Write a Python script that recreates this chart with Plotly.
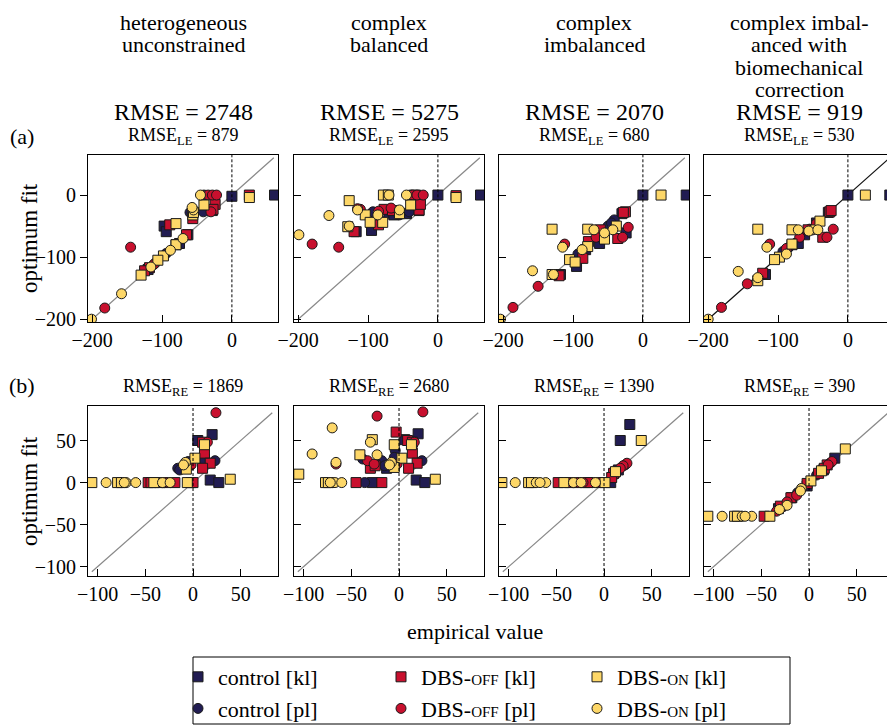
import plotly.graph_objects as go

# The page body adds an 8 px margin, so the figure is drawn 8 px smaller and
# every reference pixel position is shifted by that offset.
OFFSET = 8
W, H = 895 - OFFSET, 725 - OFFSET

# ---------------- column headers / statistics ----------------
HEADERS = [["heterogeneous", "unconstrained"],
           ["complex", "balanced"],
           ["complex", "imbalanced"],
           ["complex imbal-", "anced with", "biomechanical", "correction"]]
RMSE_TOTAL = [2748, 5275, 2070, 919]
RMSE_LE = [879, 2595, 680, 530]
RMSE_RE = [1869, 2680, 1390, 390]

SERIES_NAMES = ["control [kl]", "control [pl]",
                "DBS-<span style='font-size:15px'>OFF</span> [kl]",
                "DBS-<span style='font-size:15px'>OFF</span> [pl]",
                "DBS-<span style='font-size:15px'>ON</span> [kl]",
                "DBS-<span style='font-size:15px'>ON</span> [pl]"]
SERIES_COLORS = ["#211c52", "#211c52", "#c8102e", "#c8102e", "#fdd768", "#fdd768"]
SERIES_SYMBOLS = ["square", "circle", "square", "circle", "square", "circle"]

# tick values
A_TICKS = [-200, -100, 0]
B_TICKS = [-100, -50, 0, 50]
A_XRANGE = [-206, 66]
A_YRANGE = [-205, 65]
B_XRANGE = [-110, 89]
B_YRANGE = [-111, 91]
A_DIAG = [-200, 60]
B_DIAG = [-106, 83]

# ---------------- row (a): LE ----------------
A1_CTRL_KL_X = [61, 0, -97, -94, -75, -63, -28, -120]
A1_CTRL_KL_Y = [0, -2, -50, -59, -78, -64, -25, -120]
A1_CTRL_PL_X = [-41, -58, -40, -94, -110, -60]
A1_CTRL_PL_Y = [-27, -27, 0, -94, -110, -28]
A1_OFF_KL_X = [25, -24, -27, -56, -89, -65, -118, -125, -80]
A1_OFF_KL_Y = [0, -15, -23, -38, -48, -64, -117, -122, -80]
A1_OFF_PL_X = [-34, -28, -22, -145, -182, -112, -30]
A1_OFF_PL_Y = [0, 0, 0, -84, -182, -112, -27]
A1_ON_KL_X = [25, -40, -56, -80, -80, -98, -106, -130, -55]
A1_ON_KL_Y = [-4, -16, -32, -46, -80, -98, -105, -129, -28]
A1_ON_PL_X = [-45, -55, -70, -88, -116, -158, -201, -57]
A1_ON_PL_Y = [0, -24, -70, -89, -116, -159, -200, -20]

A2_CTRL_KL_X = [0, 61, -70, -63, -95, -117, -27, -45]
A2_CTRL_KL_Y = [0, 0, -29, -32, -57, -59, -25, -30]
A2_CTRL_PL_X = [-93, -41, -85, -40, -55, -60]
A2_CTRL_PL_Y = [-27, -27, -37, 0, -32, -25]
A2_OFF_KL_X = [26, -32, -77, -27, -25, -85, -120, -65]
A2_OFF_KL_Y = [-1, 0, -23, -24, -15, -48, -59, -25]
A2_OFF_PL_X = [-36, -30, -21, -180, -142, -111, -85, -67, -115]
A2_OFF_PL_Y = [0, 0, 0, -79, -84, -23, -26, -21, -22]
A2_ON_KL_X = [26, -78, -71, -127, -104, -55, -39, -97, -79, -129]
A2_ON_KL_Y = [-4, 0, 0, -9, -32, -30, -16, -44, -44, -51]
A2_ON_PL_X = [-70, -45, -156, -199, -115, -55, -86, -127]
A2_ON_PL_Y = [0, 0, -33, -64, -24, -24, -32, -50]

A3_CTRL_KL_X = [0, 62, -24, -62, -82, -95, -118, -30]
A3_CTRL_KL_Y = [0, 0, -61, -78, -88, -115, -128, -30]
A3_CTRL_PL_X = [-41, -50, -93, -45]
A3_CTRL_PL_Y = [-40, -50, -95, -45]
A3_OFF_KL_X = [-25, -28, -36, -61, -78, -86, -120]
A3_OFF_KL_Y = [-27, -28, -70, -56, -75, -102, -130]
A3_OFF_PL_X = [-21, -29, -67, -112, -150, -186]
A3_OFF_PL_Y = [-52, -68, -68, -79, -147, -181]
A3_ON_KL_X = [26, -38, -55, -79, -79, -105, -97, -130, -130]
A3_ON_KL_Y = [0, -50, -71, -55, -83, -104, -108, -55, -128]
A3_ON_PL_X = [-43, -55, -70, -87, -115, -158, -128, -204]
A3_ON_PL_Y = [-56, -61, -56, -88, -84, -122, -128, -200]

A4_CTRL_KL_X = [0, 60, -62, -71, -118, -45, -28]
A4_CTRL_KL_Y = [0, 0, -64, -78, -128, -45, -28]
A4_CTRL_PL_X = [-93, -55, -85]
A4_CTRL_PL_Y = [-91, -55, -85]
A4_OFF_KL_X = [-26, -24, -57, -36, -122, -80]
A4_OFF_KL_Y = [-27, -25, -56, -68, -126, -80]
A4_OFF_PL_X = [-45, -21, -30, -69, -88, -112, -144, -181]
A4_OFF_PL_Y = [-46, -55, -68, -68, -86, -79, -143, -181]
A4_ON_KL_X = [25, -40, -80, -80, -98, -105, -129, -129]
A4_ON_KL_Y = [0, -42, -56, -79, -100, -104, -55, -138]
A4_ON_PL_X = [-50, -56, -43, -71, -88, -116, -157, -129, -200]
A4_ON_PL_Y = [-56, -58, -56, -56, -95, -84, -123, -133, -200]

# ---------------- row (b): RE ----------------
B1_CTRL_KL_X = [20, 5, 18, 27, -2, 12]
B1_CTRL_KL_Y = [57, 50, 3, 0, 0, 28]
B1_CTRL_PL_X = [23, 12, -10, -16, -14, -5]
B1_CTRL_PL_Y = [26, 26, 20, 17, 15, 25]
B1_OFF_KL_X = [10, 12, 18, 10, -47, -44, -35, -28, -19, 0]
B1_OFF_KL_Y = [48, 35, 23, 17, 0, 0, 0, 0, 0, 0]
B1_OFF_PL_X = [24, -2, 15, -30]
B1_OFF_PL_Y = [83, 21, 48, 0]
B1_ON_KL_X = [12, 2, -7, 39, -106, -79, -75, -41, -6]
B1_ON_KL_Y = [45, 29, 16, 4, 0, 0, 0, 0, 0]
B1_ON_PL_X = [-8, -10, -91, -70, -60, -32, -24, -72]
B1_ON_PL_Y = [24, 21, 0, 0, 0, 0, 0, 0]

B2_CTRL_KL_X = [6, 20, -13, -28, 18, 27, -20]
B2_CTRL_KL_Y = [51, 58, 17, 0, 3, 0, 22]
B2_CTRL_PL_X = [-4, 24, -38, -18, -15, -36, -5]
B2_CTRL_PL_Y = [38, 26, 28, 26, 20, 0, 30]
B2_OFF_KL_X = [-3, 9, 14, 14, 19, 10, -30, -45, -18, -25]
B2_OFF_KL_Y = [60, 50, 48, 35, 23, 17, 17, 0, 0, 20]
B2_OFF_PL_X = [-23, 25, -2, -33, -26, -70, -66, 16]
B2_OFF_PL_Y = [79, 84, 22, 26, 22, 0, 22, 48]
B2_ON_KL_X = [13, -5, 3, -28, -41, -105, -77, -74, 38, -5]
B2_ON_KL_Y = [45, 45, 29, 51, 33, 10, 0, 0, 4, 18]
B2_ON_PL_X = [-70, -8, -10, -30, -91, -23, -66, -67, -60, -72]
B2_ON_PL_Y = [65, 24, 21, 48, 34, 33, 24, 0, 0, 0]

B3_CTRL_KL_X = [27, 17, 7, 15, -20]
B3_CTRL_KL_Y = [69, 50, 0, 15, 0]
B3_CTRL_PL_X = [22, 12, -12]
B3_CTRL_PL_Y = [21, 10, 0]
B3_OFF_KL_X = [10, 8, -48, -36, -17, -5, -28]
B3_OFF_KL_Y = [11, 6, 0, 0, 0, 0, 0]
B3_OFF_PL_X = [24, 20, 17, -22]
B3_OFF_PL_Y = [23, 20, 17, 0]
B3_ON_KL_X = [39, 12, -107, -79, -76, -42, 1]
B3_ON_KL_Y = [50, 13, 0, 0, 0, 0, 0]
B3_ON_PL_X = [-93, -71, -61, -32, -24, -9, -67]
B3_ON_PL_Y = [0, 0, 0, 0, 0, 0, 0]

B4_CTRL_KL_X = [27, -2, -32, 15, -18]
B4_CTRL_KL_Y = [29, -4, -31, 15, -18]
B4_CTRL_PL_X = [22, -12, -28, 8]
B4_CTRL_PL_Y = [23, -12, -29, 9]
B4_OFF_KL_X = [19, 10, -2, -19, -30, -47, 16]
B4_OFF_KL_Y = [21, 11, -1, -18, -28, -40, 17]
B4_OFF_PL_X = [24, -13, -23, -34, 20]
B4_OFF_PL_Y = [25, -15, -23, -34, 21]
B4_ON_KL_X = [38, 13, 2, -41, -106, -78, -75]
B4_ON_KL_Y = [40, 14, 2, -40, -40, -40, -40]
B4_ON_PL_X = [-8, -9, -23, -31, -91, -70, -60, -67]
B4_ON_PL_Y = [-7, -10, -27, -32, -40, -40, -40, -40]

PANELS = [
    [(A1_CTRL_KL_X, A1_CTRL_KL_Y), (A1_CTRL_PL_X, A1_CTRL_PL_Y), (A1_OFF_KL_X, A1_OFF_KL_Y),
     (A1_OFF_PL_X, A1_OFF_PL_Y), (A1_ON_KL_X, A1_ON_KL_Y), (A1_ON_PL_X, A1_ON_PL_Y)],
    [(A2_CTRL_KL_X, A2_CTRL_KL_Y), (A2_CTRL_PL_X, A2_CTRL_PL_Y), (A2_OFF_KL_X, A2_OFF_KL_Y),
     (A2_OFF_PL_X, A2_OFF_PL_Y), (A2_ON_KL_X, A2_ON_KL_Y), (A2_ON_PL_X, A2_ON_PL_Y)],
    [(A3_CTRL_KL_X, A3_CTRL_KL_Y), (A3_CTRL_PL_X, A3_CTRL_PL_Y), (A3_OFF_KL_X, A3_OFF_KL_Y),
     (A3_OFF_PL_X, A3_OFF_PL_Y), (A3_ON_KL_X, A3_ON_KL_Y), (A3_ON_PL_X, A3_ON_PL_Y)],
    [(A4_CTRL_KL_X, A4_CTRL_KL_Y), (A4_CTRL_PL_X, A4_CTRL_PL_Y), (A4_OFF_KL_X, A4_OFF_KL_Y),
     (A4_OFF_PL_X, A4_OFF_PL_Y), (A4_ON_KL_X, A4_ON_KL_Y), (A4_ON_PL_X, A4_ON_PL_Y)],
    [(B1_CTRL_KL_X, B1_CTRL_KL_Y), (B1_CTRL_PL_X, B1_CTRL_PL_Y), (B1_OFF_KL_X, B1_OFF_KL_Y),
     (B1_OFF_PL_X, B1_OFF_PL_Y), (B1_ON_KL_X, B1_ON_KL_Y), (B1_ON_PL_X, B1_ON_PL_Y)],
    [(B2_CTRL_KL_X, B2_CTRL_KL_Y), (B2_CTRL_PL_X, B2_CTRL_PL_Y), (B2_OFF_KL_X, B2_OFF_KL_Y),
     (B2_OFF_PL_X, B2_OFF_PL_Y), (B2_ON_KL_X, B2_ON_KL_Y), (B2_ON_PL_X, B2_ON_PL_Y)],
    [(B3_CTRL_KL_X, B3_CTRL_KL_Y), (B3_CTRL_PL_X, B3_CTRL_PL_Y), (B3_OFF_KL_X, B3_OFF_KL_Y),
     (B3_OFF_PL_X, B3_OFF_PL_Y), (B3_ON_KL_X, B3_ON_KL_Y), (B3_ON_PL_X, B3_ON_PL_Y)],
    [(B4_CTRL_KL_X, B4_CTRL_KL_Y), (B4_CTRL_PL_X, B4_CTRL_PL_Y), (B4_OFF_KL_X, B4_OFF_KL_Y),
     (B4_OFF_PL_X, B4_OFF_PL_Y), (B4_ON_KL_X, B4_ON_KL_Y), (B4_ON_PL_X, B4_ON_PL_Y)],
]

# ---------------- layout geometry (screen pixels of the reference) ----------------
FONT = "'Liberation Serif', 'DejaVu Serif', 'Times New Roman', serif"
COL_PX = [(88, 278), (294, 484), (499, 689), (704, 894)]
ROW_PX = [(154.7, 322.3), (406, 576)]


def px_x(p):
    return (p - OFFSET) / W


def px_y(p):
    return 1 - (p - OFFSET) / H


fig = go.Figure()
LEGENDS = ["legend", "legend", "legend2", "legend2", "legend3", "legend3"]

for p in range(8):
    row, col = divmod(p, 4)
    ax = p + 1
    xref = "x" if ax == 1 else f"x{ax}"
    yref = "y" if ax == 1 else f"y{ax}"
    diag = A_DIAG if row == 0 else B_DIAG
    diag_color = "#111111" if (row == 0 and col == 3) else "#888888"
    fig.add_trace(go.Scatter(x=diag, y=diag, mode="lines", xaxis=xref, yaxis=yref,
                             line=dict(color=diag_color, width=1.2),
                             showlegend=False, hoverinfo="skip"))
    for s, (xs, ys) in enumerate(PANELS[p]):
        fig.add_trace(go.Scatter(
            x=xs, y=ys, mode="markers", xaxis=xref, yaxis=yref,
            name=SERIES_NAMES[s], legend=LEGENDS[s],
            showlegend=(p == 0),
            marker=dict(symbol=SERIES_SYMBOLS[s], size=10, color=SERIES_COLORS[s],
                        line=dict(color="#1a1a1a", width=1))))
    # vertical dashed line at zero
    fig.add_shape(type="line", x0=0, x1=0, y0=0, y1=1, xref=xref, yref=f"{yref} domain",
                  line=dict(color="black", width=1, dash="3px,2px"))

    xa = dict(domain=[px_x(COL_PX[col][0]), min(1.0, px_x(COL_PX[col][1]))],
              range=A_XRANGE if row == 0 else B_XRANGE,
              tickvals=A_TICKS if row == 0 else B_TICKS,
              ticks="inside", ticklen=7, tickwidth=1, tickcolor="black",
              showline=True, linecolor="black", linewidth=1, mirror=True,
              showgrid=False, zeroline=False, automargin=False,
              tickfont=dict(family=FONT, size=20, color="black"),
              anchor=yref)
    ya = dict(domain=[px_y(ROW_PX[row][1]), px_y(ROW_PX[row][0])],
              range=A_YRANGE if row == 0 else B_YRANGE,
              tickvals=A_TICKS if row == 0 else B_TICKS,
              ticks="outside" if col == 0 else "inside",
              ticklen=7, tickwidth=1, tickcolor="black",
              showticklabels=(col == 0),
              showline=True, linecolor="black", linewidth=1, mirror=True,
              showgrid=False, zeroline=False, automargin=False,
              tickfont=dict(family=FONT, size=20, color="black"),
              anchor=xref)
    fig.layout[f"xaxis{'' if ax == 1 else ax}"] = xa
    fig.layout[f"yaxis{'' if ax == 1 else ax}"] = ya

annotations = []
for c in range(4):
    cx = px_x((COL_PX[c][0] + COL_PX[c][1]) / 2)
    for i, line in enumerate(HEADERS[c]):
        annotations.append(dict(text=line, x=cx, y=px_y(22 + 22.6 * i), xref="paper", yref="paper",
                                xanchor="center", yanchor="middle", showarrow=False,
                                font=dict(family=FONT, size=22, color="black")))
    annotations.append(dict(text=f"RMSE = {RMSE_TOTAL[c]}", x=cx, y=px_y(112), xref="paper",
                            yref="paper", xanchor="center", yanchor="middle", showarrow=False,
                            font=dict(family=FONT, size=24, color="black")))
    annotations.append(dict(text=f"RMSE<sub>LE</sub> = {RMSE_LE[c]}", x=cx, y=px_y(137),
                            xref="paper", yref="paper", xanchor="center", yanchor="middle",
                            showarrow=False, font=dict(family=FONT, size=18, color="black")))
    annotations.append(dict(text=f"RMSE<sub>RE</sub> = {RMSE_RE[c]}", x=cx, y=px_y(387),
                            xref="paper", yref="paper", xanchor="center", yanchor="middle",
                            showarrow=False, font=dict(family=FONT, size=18, color="black")))

for lab, yy in (("(a)", 137), ("(b)", 385)):
    annotations.append(dict(text=lab, x=px_x(22), y=px_y(yy), xref="paper", yref="paper",
                            xanchor="center", yanchor="middle", showarrow=False,
                            font=dict(family=FONT, size=22, color="black")))
for yy in (238, 491):
    annotations.append(dict(text="optimum fit", x=px_x(29), y=px_y(yy), xref="paper",
                            yref="paper", xanchor="center", yanchor="middle", textangle=-90,
                            showarrow=False, font=dict(family=FONT, size=23, color="black")))
annotations.append(dict(text="empirical value", x=px_x(475), y=px_y(631), xref="paper",
                        yref="paper", xanchor="center", yanchor="middle", showarrow=False,
                        font=dict(family=FONT, size=22, color="black")))

leg_common = dict(orientation="v", yanchor="top", xanchor="left", y=px_y(656),
                  bgcolor="rgba(0,0,0,0)", borderwidth=0, itemwidth=30,
                  font=dict(family=FONT, size=22, color="black"))

fig.update_layout(
    template="none",
    width=W, height=H,
    margin=dict(l=0, r=0, t=0, b=0, autoexpand=False),
    paper_bgcolor="white", plot_bgcolor="white",
    font=dict(family=FONT, color="black"),
    annotations=annotations,
    legend=dict(x=px_x(178), **leg_common),
    legend2=dict(x=px_x(381), **leg_common),
    legend3=dict(x=px_x(577), **leg_common),
)
fig.add_shape(type="rect", xref="paper", yref="paper",
              x0=px_x(193), x1=px_x(790), y0=max(0.0, px_y(724)), y1=px_y(657),
              line=dict(color="black", width=1), fillcolor="rgba(0,0,0,0)")

fig.write_html("out.html")
